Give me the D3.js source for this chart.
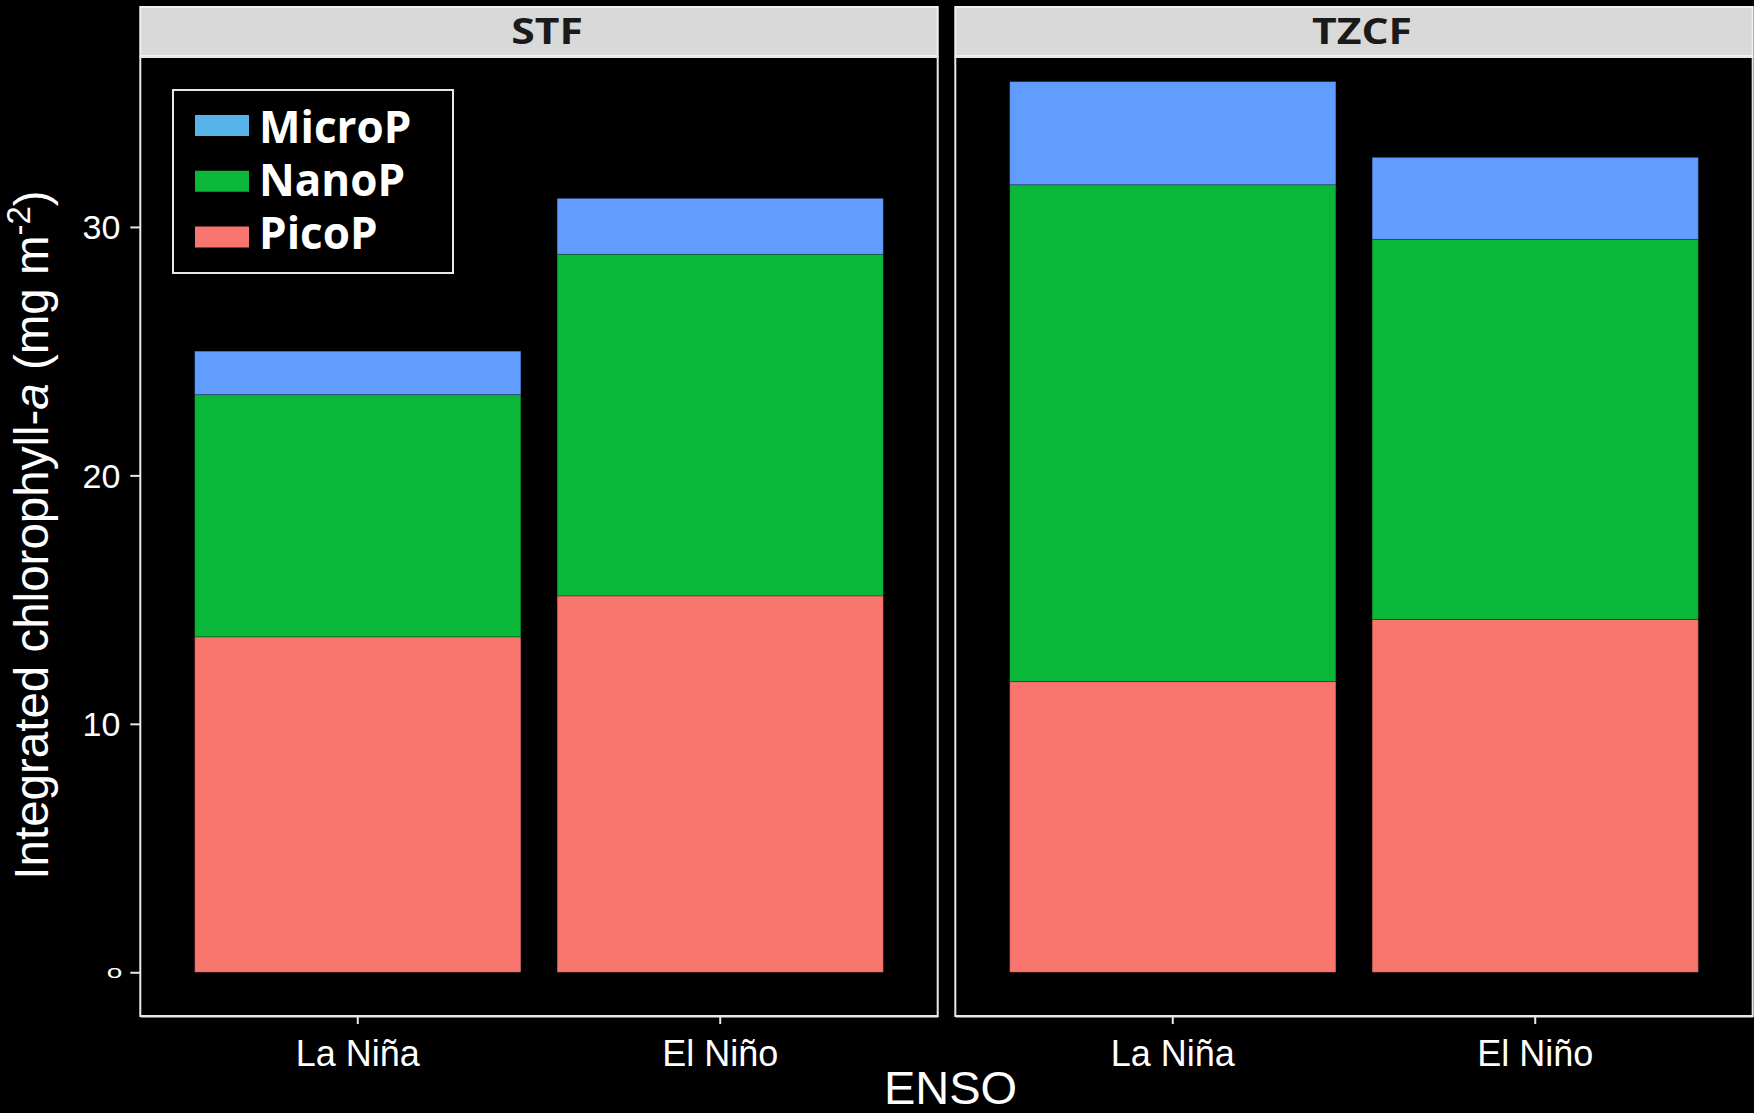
<!DOCTYPE html>
<html>
<head>
<meta charset="utf-8">
<script src="https://cdn.jsdelivr.net/npm/d3@7"></script>
<style>
  html, body { margin: 0; padding: 0; background: #000; }
  svg { display: block; }
</style>
</head>
<body>
<svg id="chart" width="1754" height="1113"></svg>
<script>
// Integrated chlorophyll-a by phytoplankton size class, per front and ENSO phase
const facetNames = ["STF", "TZCF"];
const ensoPhases = ["La Niña", "El Niño"];
const sizeClasses = ["PicoP", "NanoP", "MicroP"];
// values ordered: STF La Niña, STF El Niño, TZCF La Niña, TZCF El Niño
const picoP  = [13.50, 15.15, 11.70, 14.20];
const nanoP  = [9.75, 13.75, 20.00, 15.30];
const microP = [1.75, 2.25, 4.15, 3.30];
const yTicks = [0, 10, 20, 30];
const yTickLabels = ["o", "10", "20", "30"];
const legendOrder = ["MicroP", "NanoP", "PicoP"];

const barColors = { PicoP: "#F8766D", NanoP: "#0BB738", MicroP: "#619CFF" };
const keyColors = { PicoP: "#F8766D", NanoP: "#0BB738", MicroP: "#56B4E9" };

const rows = [];
facetNames.forEach((f, fi) => {
  ensoPhases.forEach((e, ei) => {
    const i = fi * ensoPhases.length + ei;
    rows.push({ facet: f, enso: e, PicoP: picoP[i], NanoP: nanoP[i], MicroP: microP[i] });
  });
});
const series = d3.stack().keys(sizeClasses)(rows);

const svg = d3.select("#chart");
svg.append("rect").attr("width", 1754).attr("height", 1113).attr("fill", "#000");

const panelTop = 57, panelBottom = 1016;
const stripTop = 7, stripBottom = 56;
const panelW = 797.4, panelGap = 17.6, firstLeft = 140.3;

const y = d3.scaleLinear().domain([-1.76, 36.84]).range([panelBottom, panelTop]);

const facetX = d3.scaleOrdinal()
  .domain(facetNames)
  .range(facetNames.map((_, i) => firstLeft + i * (panelW + panelGap)));

facetNames.forEach(f => {
  const x0 = facetX(f);
  const g = svg.append("g");
  const x = d3.scaleBand().domain(ensoPhases).range([x0, x0 + panelW])
    .paddingInner(0.1).paddingOuter(0.15);

  // strip
  g.append("rect")
    .attr("x", x0).attr("y", stripTop)
    .attr("width", panelW).attr("height", stripBottom - stripTop)
    .attr("fill", "#D9D9D9").attr("stroke", "#F2F2F2").attr("stroke-width", 2);
  g.append("text")
    .attr("transform", `translate(${x0 + panelW / 2 + 8},${stripBottom - 12}) scale(1.22,1)`)
    .attr("text-anchor", "middle")
    .attr("font-family", "'Open Sans', sans-serif")
    .attr("font-weight", 700)
    .attr("font-size", 35)
    .attr("fill", "#1a1a1a")
    .text(f);

  // stacked bars
  series.forEach(s => {
    g.append("g").selectAll("rect")
      .data(s.filter(d => d.data.facet === f))
      .join("rect")
      .attr("x", d => x(d.data.enso))
      .attr("width", x.bandwidth())
      .attr("y", d => y(d[1]))
      .attr("height", d => y(d[0]) - y(d[1]))
      .attr("fill", barColors[s.key])
      .attr("stroke", "rgba(0,0,0,0.25)")
      .attr("stroke-width", 1);
  });

  // panel border
  g.append("rect")
    .attr("x", x0).attr("y", panelTop)
    .attr("width", panelW).attr("height", panelBottom - panelTop)
    .attr("fill", "none").attr("stroke", "#E8E8E8").attr("stroke-width", 2);

  // x axis
  const xAxis = g.append("g")
    .attr("transform", `translate(0,${panelBottom})`)
    .call(d3.axisBottom(x).tickSize(8).tickSizeOuter(0));
  xAxis.select(".domain").attr("stroke", "#E8E8E8").attr("stroke-width", 2);
  xAxis.selectAll(".tick line").attr("stroke", "#E8E8E8").attr("stroke-width", 2);
  xAxis.selectAll(".tick text")
    .attr("fill", "#fff")
    .attr("font-family", "'Liberation Sans', Arial, sans-serif")
    .attr("font-size", 36)
    .attr("y", 50)
    .attr("dy", 0);
});

// y axis on the first panel
const yAxis = svg.append("g")
  .attr("transform", `translate(${firstLeft},0)`)
  .call(d3.axisLeft(y).tickValues(yTicks)
    .tickFormat((d, i) => yTickLabels[i]).tickSize(10).tickSizeOuter(0));
yAxis.select(".domain").remove();
yAxis.selectAll(".tick line").attr("stroke", "#E8E8E8").attr("stroke-width", 2);
yAxis.selectAll(".tick text")
  .attr("fill", "#fff")
  .attr("font-family", "'Liberation Sans', Arial, sans-serif")
  .attr("font-size", 34)
  .attr("x", -20)
  .attr("dy", "0.35em");
yAxis.selectAll(".tick text").filter((d) => d === 0)
  .attr("font-size", 28)
  .attr("x", -18)
  .attr("dy", 0)
  .attr("transform", "translate(0,5) scale(1,0.65)");

// axis titles
svg.append("text")
  .attr("x", (firstLeft + facetX(facetNames[1]) + panelW) / 2 + 4)
  .attr("y", 1104)
  .attr("text-anchor", "middle")
  .attr("font-family", "'Liberation Sans', Arial, sans-serif")
  .attr("font-size", 47)
  .attr("fill", "#fff")
  .text("ENSO");

const yTitle = svg.append("text")
  .attr("transform", "translate(48,535) rotate(-90)")
  .attr("text-anchor", "middle")
  .attr("font-family", "'Liberation Sans', Arial, sans-serif")
  .attr("font-size", 47.5)
  .attr("fill", "#fff");
yTitle.append("tspan").text("Integrated chlorophyll-");
yTitle.append("tspan").attr("font-style", "italic").text("a");
yTitle.append("tspan").text(" (mg m");
yTitle.append("tspan").attr("font-size", 33).attr("dy", -18).text("-2");
yTitle.append("tspan").attr("dy", 18).text(")");

// legend
const legend = svg.append("g");
legend.append("rect")
  .attr("x", 173).attr("y", 90).attr("width", 280).attr("height", 183)
  .attr("fill", "#000").attr("stroke", "#E8E8E8").attr("stroke-width", 2);
const keyY = d3.scalePoint().domain(legendOrder).range([125.5, 237]);
const labelY = d3.scalePoint().domain(legendOrder).range([142.5, 248.5]);
legendOrder.forEach(k => {
  legend.append("rect")
    .attr("x", 195).attr("y", keyY(k) - 10.5)
    .attr("width", 54).attr("height", 21)
    .attr("fill", keyColors[k]);
  legend.append("text")
    .attr("x", 259).attr("y", labelY(k))
    .attr("font-family", "'Open Sans', sans-serif")
    .attr("font-weight", 700)
    .attr("font-size", 44)
    .attr("fill", "#fff")
    .text(k);
});
</script>
</body>
</html>
